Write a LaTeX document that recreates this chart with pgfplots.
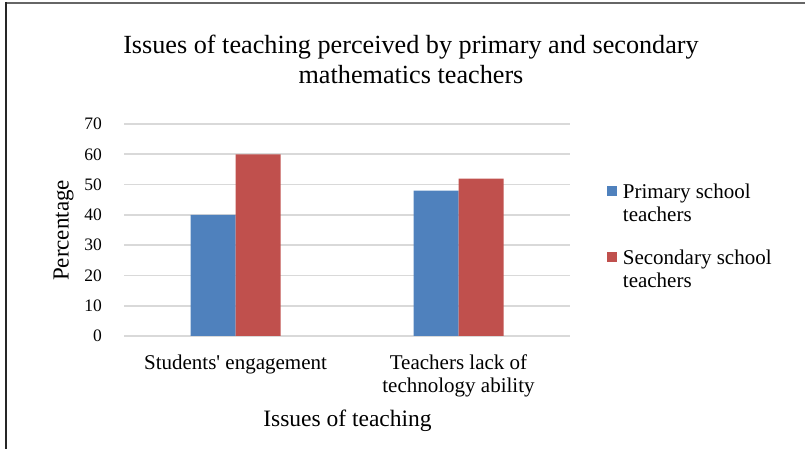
\documentclass[border=0pt]{standalone}
\usepackage{fontspec}
\setmainfont{Liberation Serif}
\usepackage{pgfplots}
\pgfplotsset{compat=1.18}
\definecolor{pblue}{HTML}{4F81BD}
\definecolor{pred}{HTML}{C0504D}
\definecolor{gridc}{HTML}{D9D9D9}
\begin{document}
\begin{tikzpicture}
\path[use as bounding box] (0pt,0pt) rectangle (805pt,449pt);
\draw[color=black!60, line width=2pt] (5pt,446pt) -- (805pt,446pt);
\draw[color=black!85, line width=2pt] (5.5pt,447pt) -- (5.5pt,0pt);
\node[align=center, anchor=north, inner sep=0pt, font=\fontsize{26.2}{30}\selectfont] at (411pt,414pt)
  {Issues of teaching perceived by primary and secondary\\mathematics teachers};
\begin{axis}[
  at={(124pt,113pt)}, anchor=south west,
  scale only axis, width=446pt, height=212pt,
  xmin=-0.5, xmax=1.5, ymin=0, ymax=70,
  ytick={0,10,...,70},
  xtick={0,1},
  xticklabels={Students\textquotesingle\ engagement,{Teachers lack of\\technology ability}},
  ybar=0pt, bar width=45pt,
  axis line style={draw=none},
  major tick length=0pt,
  ymajorgrids, grid style={gridc, line width=1.6pt},
  /pgf/number format/assume math mode=true,
  yticklabel style={font=\fontsize{17.5}{20}\selectfont, inner sep=0pt, anchor=east, xshift=-22pt},
  xticklabel style={font=\fontsize{21}{23}\selectfont, inner sep=0pt, anchor=north, yshift=-19pt, align=center},
  legend style={at={(1.083,0.718)}, anchor=north west, draw=none, fill=none,
    inner sep=0pt, row sep=27pt,
    font=\fontsize{21}{23}\selectfont,
    nodes={inner sep=0pt, align=left},
    /tikz/every odd column/.append style={column sep=5.7pt}},
  legend cell align=left,
  legend image code/.code={\path[#1] (0pt,8pt) rectangle (10pt,17.5pt);},
]
\addplot[fill=pblue, draw=none] coordinates {(0,40) (1,48)};
\addplot[fill=pred, draw=none] coordinates {(0,60) (1,52)};
\legend{{Primary school\\teachers},{Secondary school\\teachers}}
\end{axis}
\node[rotate=90, anchor=center, inner sep=0pt, font=\fontsize{23}{26}\selectfont] at (63.5pt,218.5pt) {Percentage};
\node[anchor=base, inner sep=0pt, font=\fontsize{23.5}{26}\selectfont] at (347.5pt,22.3pt) {Issues of teaching};
\end{tikzpicture}
\end{document}
